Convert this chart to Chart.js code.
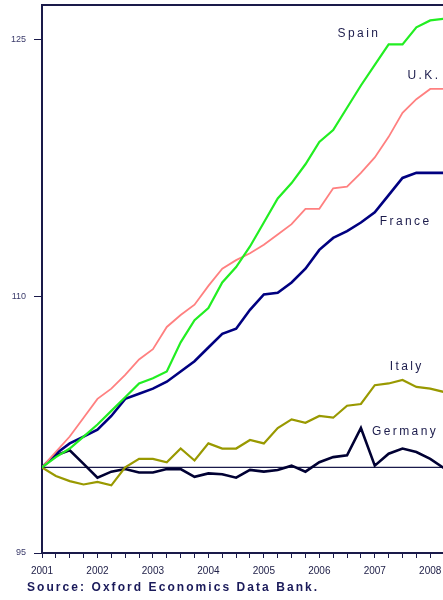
<!DOCTYPE html>
<html><head><meta charset="utf-8">
<script src="https://cdn.jsdelivr.net/npm/chart.js@4/dist/chart.umd.min.js"></script>
<style>html,body{margin:0;padding:0;background:#fff;overflow:hidden}</style>
</head><body>
<canvas id="c" width="443" height="600"></canvas>
<script>
const quarters = [2001, 2001.25, 2001.5, 2001.75, 2002, 2002.25, 2002.5, 2002.75, 2003, 2003.25, 2003.5, 2003.75, 2004, 2004.25, 2004.5, 2004.75, 2005, 2005.25, 2005.5, 2005.75, 2006, 2006.25, 2006.5, 2006.75, 2007, 2007.25, 2007.5, 2007.75, 2008, 2008.25];
const spain   = [100, 100.6, 101.1, 101.8, 102.5, 103.3, 104.1, 104.9, 105.2, 105.6, 107.3, 108.6, 109.3, 110.8, 111.7, 112.9, 114.3, 115.7, 116.6, 117.7, 119.0, 119.7, 121.0, 122.3, 123.5, 124.7, 124.7, 125.7, 126.1, 126.2];
const uk      = [100, 100.9, 101.8, 102.9, 104.0, 104.6, 105.4, 106.3, 106.9, 108.2, 108.9, 109.5, 110.6, 111.6, 112.1, 112.5, 113.0, 113.6, 114.2, 115.1, 115.1, 116.3, 116.4, 117.2, 118.1, 119.3, 120.7, 121.5, 122.1, 122.1];
const france  = [100, 100.8, 101.4, 101.8, 102.2, 103.0, 104.0, 104.3, 104.6, 105.0, 105.6, 106.2, 107.0, 107.8, 108.1, 109.2, 110.1, 110.2, 110.8, 111.6, 112.7, 113.4, 113.8, 114.3, 114.9, 115.9, 116.9, 117.2, 117.2, 117.2];
const italy   = [100, 99.5, 99.2, 99.0, 99.15, 98.95, 100.0, 100.5, 100.5, 100.3, 101.1, 100.4, 101.4, 101.1, 101.1, 101.6, 101.4, 102.3, 102.8, 102.6, 103.0, 102.9, 103.6, 103.7, 104.8, 104.9, 105.1, 104.7, 104.6, 104.4];
const germany = [100, 100.7, 101.0, 100.2, 99.4, 99.75, 99.9, 99.7, 99.7, 99.9, 99.9, 99.45, 99.65, 99.6, 99.4, 99.85, 99.75, 99.85, 100.1, 99.75, 100.3, 100.6, 100.7, 102.3, 100.1, 100.8, 101.1, 100.9, 100.5, 99.95];
const seriesNames = ['Spain', 'U.K.', 'France', 'Italy', 'Germany'];
const yTicks = [95, 110, 125];
const xTicks = [2001, 2001.25, 2001.5, 2001.75, 2002, 2002.25, 2002.5, 2002.75, 2003, 2003.25, 2003.5, 2003.75, 2004, 2004.25, 2004.5, 2004.75, 2005, 2005.25, 2005.5, 2005.75, 2006, 2006.25, 2006.5, 2006.75, 2007, 2007.25, 2007.5, 2007.75, 2008];
const yearLabels = ['2001', '2002', '2003', '2004', '2005', '2006', '2007', '2008'];
const baseline = 100;
const sourceText = 'Source: Oxford Economics Data Bank.';

const AX = '#1a1a4a';
const FONT = '"Liberation Sans", Arial, sans-serif';
const pts = arr => quarters.map((x, i) => ({x: x, y: arr[i]}));

const styles = [
  {color: '#22ee22', w: 2.2},
  {color: '#ff8080', w: 1.8},
  {color: '#000080', w: 2.6},
  {color: '#999900', w: 2.2},
  {color: '#000033', w: 2.6}
];
const values = [spain, uk, france, italy, germany];
// label anchors in data coordinates (left edge, vertical middle)
const labelPos = [
  {x: 2006.33, y: 125.3},
  {x: 2007.59, y: 122.85},
  {x: 2007.09, y: 114.36},
  {x: 2007.27, y: 105.88},
  {x: 2006.95, y: 102.08}
];

const deco = {
  id: 'deco',
  beforeDatasetsDraw(chart) {
    const {ctx, chartArea: a, scales: {y}} = chart;
    const py = y.getPixelForValue(baseline);
    ctx.save();
    ctx.strokeStyle = AX; ctx.lineWidth = 1.2;
    ctx.beginPath(); ctx.moveTo(a.left, py); ctx.lineTo(a.right, py); ctx.stroke();
    ctx.lineWidth = 2;
    ctx.beginPath(); ctx.moveTo(a.left, a.top); ctx.lineTo(a.right + 5, a.top); ctx.stroke();
    ctx.restore();
  },
  afterDraw(chart) {
    const {ctx, scales: {x, y}} = chart;
    ctx.save();
    ctx.fillStyle = '#1c1c4c';
    ctx.font = '12px ' + FONT;
    ctx.textBaseline = 'middle';
    ctx.textAlign = 'left';
    try { ctx.letterSpacing = '2.4px'; } catch (e) {}
    seriesNames.forEach((n, i) => {
      ctx.fillText(n, x.getPixelForValue(labelPos[i].x), y.getPixelForValue(labelPos[i].y));
    });
    ctx.font = 'bold 12px ' + FONT;
    try { ctx.letterSpacing = '0px'; } catch (e) {}
    const w0 = ctx.measureText(sourceText).width;
    const sp = (290 - w0) / (sourceText.length - 1);
    try { ctx.letterSpacing = sp.toFixed(2) + 'px'; } catch (e) {}
    ctx.fillStyle = '#1a1a5a';
    ctx.fillText(sourceText, 27, 588);
    ctx.restore();
  }
};

new Chart(document.getElementById('c'), {
  type: 'line',
  data: {
    datasets: values.map((v, i) => ({
      label: seriesNames[i],
      data: pts(v),
      borderColor: styles[i].color,
      borderWidth: styles[i].w,
      pointRadius: 0,
      tension: 0,
      fill: false
    }))
  },
  options: {
    responsive: false,
    animation: false,
    devicePixelRatio: 1,
    layout: {padding: {top: 5, left: 0, right: 0, bottom: 0}},
    plugins: {legend: {display: false}, tooltip: {enabled: false}},
    scales: {
      x: {
        type: 'linear', min: 2001, max: 2008.23,
        afterBuildTicks: s => { s.ticks = xTicks.map(v => ({value: v})); },
        afterFit: s => { s.height = 47; s.paddingLeft = 0; s.paddingRight = 0; },
        ticks: {
          autoSkip: false, maxRotation: 0, padding: 7,
          color: '#22224a', font: {family: FONT, size: 10},
          callback: v => Number.isInteger(v) ? yearLabels[v - 2001] : ''
        },
        grid: {drawOnChartArea: false, drawTicks: true, tickLength: 5, color: AX, lineWidth: 1},
        border: {color: AX, width: 2}
      },
      y: {
        min: 95, max: 127,
        afterBuildTicks: s => { s.ticks = yTicks.map(v => ({value: v})); },
        afterFit: s => { s.width = 42; s.paddingTop = 0; s.paddingBottom = 0; },
        ticks: {padding: 8, color: '#3a3a6a', font: {family: FONT, size: 9}},
        grid: {drawOnChartArea: false, drawTicks: true, tickLength: 8, color: AX, lineWidth: 1},
        border: {color: AX, width: 2}
      }
    }
  },
  plugins: [deco]
});
</script>
</body></html>
